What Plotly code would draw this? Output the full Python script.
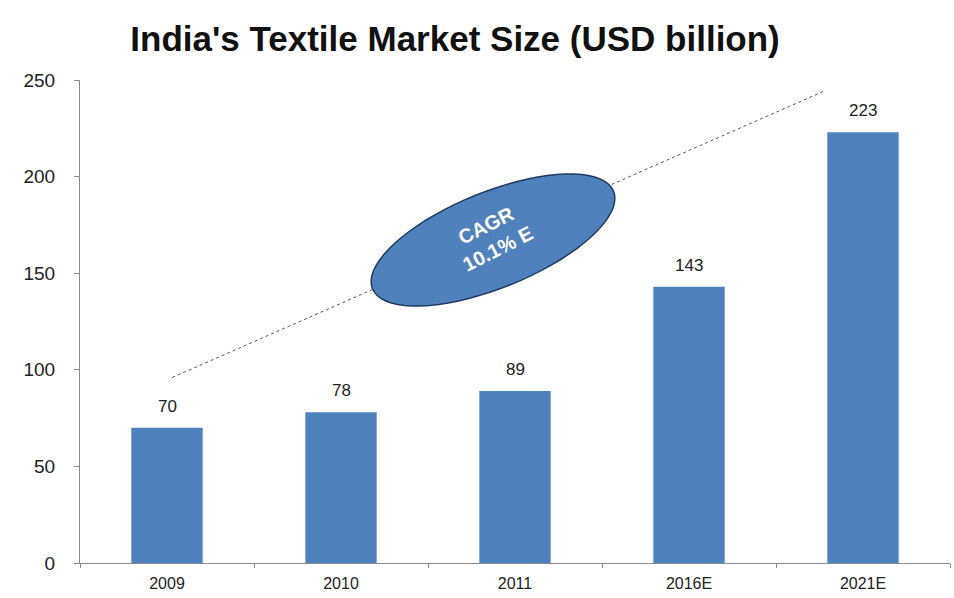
import numpy as np
import plotly.graph_objects as go

# Market size by year (USD billion); "E" marks estimates
years = ["2009", "2010", "2011", "2016E", "2021E"]
market_size = [70, 78, 89, 143, 223]
y_ticks = [0, 50, 100, 150, 200, 250]

cagr_text = "CAGR<br>10.1% E"

BAR_BLUE = "#4F81BD"
W, H = 954, 598
M_L, M_R, M_T, M_B = 80, 4, 80, 35
plot_w = W - M_L - M_R
plot_h = H - M_T - M_B

fig = go.Figure()
fig.add_trace(go.Bar(
    x=years, y=market_size,
    marker=dict(color=BAR_BLUE, line=dict(width=0)),
    width=0.41,
    hoverinfo="x+y",
))

# value labels above each bar (category index used as x position)
for i, v in enumerate(market_size):
    fig.add_annotation(x=i, y=v, xref="x", yref="y", text=str(v), showarrow=False,
                       yanchor="bottom", yshift=10,
                       font=dict(family="Liberation Sans", size=17, color="#222"))

# trend line behind the CAGR badge
fig.add_shape(type="line", xref="x", yref="y",
              x0=0.03, y0=96, x1=3.77, y1=244,
              line=dict(color="#555", width=1, dash="dot"))

# rotated ellipse badge, built in pixel space and mapped to paper coords
cx, cy = 493, 240          # centre (px from top-left of page)
a, b, ang = 130, 48, np.deg2rad(22)
t = np.linspace(0, 2 * np.pi, 73)
ex = cx + a * np.cos(t) * np.cos(ang) + b * np.sin(t) * np.sin(ang)
ey = cy - a * np.cos(t) * np.sin(ang) + b * np.sin(t) * np.cos(ang)
px = (ex - M_L) / plot_w
py = (M_T + plot_h - ey) / plot_h
path = "M " + " L ".join(f"{u:.5f},{v:.5f}" for u, v in zip(px, py)) + " Z"
fig.add_shape(type="path", xref="paper", yref="paper", path=path,
              fillcolor=BAR_BLUE, line=dict(color="#1F3A60", width=1.5))

fig.add_annotation(xref="paper", yref="paper",
                   x=(cx - 1 - M_L) / plot_w, y=(M_T + plot_h - cy + 3) / plot_h,
                   xanchor="center", yanchor="middle",
                   text=cagr_text, showarrow=False, textangle=-27,
                   font=dict(family="Liberation Sans", size=20, color="white",
                             weight="bold"),
                   align="center")

fig.update_layout(
    width=W, height=H,
    margin=dict(l=M_L, r=M_R, t=M_T, b=M_B),
    paper_bgcolor="white", plot_bgcolor="white",
    showlegend=False,
    title=dict(text="<b>India's Textile Market Size (USD billion)</b>",
               x=0.477, xanchor="center", y=0.935, yanchor="middle",
               font=dict(family="Liberation Sans", size=35, color="#111")),
    bargap=0.59,
)
fig.update_xaxes(
    type="category", range=[-0.5, 4.5],
    showline=True, linecolor="#8a8a8a", linewidth=1,
    ticks="outside", tickson="boundaries", ticklen=4, tickcolor="#8a8a8a",
    tickfont=dict(family="Liberation Sans", size=16, color="#222"),
    showgrid=False, zeroline=False, ticklabelstandoff=6,
)
fig.update_yaxes(
    range=[0, 250], tickvals=y_ticks, showline=True, linecolor="#8a8a8a",
    linewidth=1, ticks="outside", ticklen=5, tickcolor="#8a8a8a",
    tickfont=dict(family="Liberation Sans", size=19, color="#222"),
    showgrid=False, zeroline=False, ticklabelstandoff=15,
)

fig.write_html("out.html")
